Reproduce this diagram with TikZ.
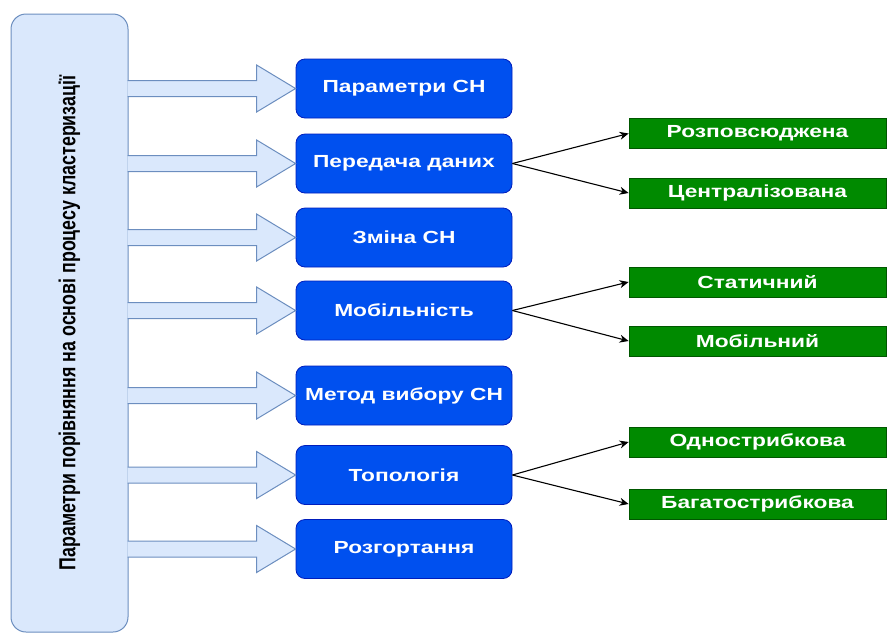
\documentclass[tikz,border=0pt]{standalone}
\usepackage{fontspec}
\setmainfont{Liberation Sans}
\usetikzlibrary{arrows.meta,calc}
\definecolor{bluefill}{HTML}{0050EF}
\definecolor{blueline}{HTML}{001DBC}
\definecolor{greenfill}{HTML}{008A00}
\definecolor{greenline}{HTML}{005700}
\definecolor{lightfill}{HTML}{DAE8FC}
\definecolor{lightline}{HTML}{6C8EBF}
\newcommand{\widetxt}[1]{\scalebox{1.3}[1]{#1}}
\begin{document}
\begin{tikzpicture}[x=1pt,y=-1pt,
  leftbox/.style={draw=lightline,fill=lightfill,line width=1pt,rounded corners=15pt,minimum width=117pt,minimum height=618pt,inner sep=0pt},
  bluebox/.style={draw=blueline,fill=bluefill,line width=0.8pt,rounded corners=9pt,minimum width=216pt,minimum height=59pt,inner sep=0pt,text=white,font=\fontsize{17.5}{20}\selectfont\bfseries},
  greenbox/.style={draw=greenline,fill=greenfill,line width=0.8pt,minimum width=257pt,minimum height=30pt,inner sep=0pt,text=white,font=\fontsize{17.5}{20}\selectfont\bfseries},
  barrow/.style={draw=lightline,fill=lightfill,line width=1pt,line join=miter},
  conn/.style={-{Stealth[length=9pt,width=8pt]},line width=1.1pt,black}]
\useasboundingbox (0,0) rectangle (887,633);
\node[leftbox] (L) at (69.5,323) {\rotatebox{90}{\scalebox{1}[1.3]{\fontsize{17.8}{20}\selectfont\bfseries Параметри порівняння на основі процесу кластеризації}}};
\node[bluebox] (b1) at (404,88.5) {\widetxt{Параметри СН}};
\node[bluebox] (b2) at (404,163.5) {\widetxt{Передача даних}};
\node[bluebox] (b3) at (404,237.5) {\widetxt{Зміна СН}};
\node[bluebox] (b4) at (404,310.5) {\widetxt{Мобільність}};
\node[bluebox] (b5) at (404,395.5) {\widetxt{Метод вибору СН}};
\node[bluebox] (b6) at (404,475) {\widetxt{Топологія}};
\node[bluebox] (b7) at (404,549) {\widetxt{Розгортання}};
\node[greenbox] (g1) at (757.5,133.5) {\widetxt{Розповсюджена}};
\node[greenbox] (g2) at (757.5,193) {\widetxt{Централізована}};
\node[greenbox] (g3) at (757.5,282) {\widetxt{Статичний}};
\node[greenbox] (g4) at (757.5,341) {\widetxt{Мобільний}};
\node[greenbox] (g5) at (757.5,442) {\widetxt{Однострибкова}};
\node[greenbox] (g6) at (757.5,504) {\widetxt{Багатострибкова}};
\foreach \b in {b1,b2,b3,b4,b5,b6,b7}{
  \draw[barrow] ($(L.east|-\b.west)+(-1,-8)$) -- ($(\b.west)+(-39,-8)$) -- ($(\b.west)+(-39,-23.5)$) -- (\b.west) -- ($(\b.west)+(-39,23.5)$) -- ($(\b.west)+(-39,8)$) -- ($(L.east|-\b.west)+(-1,8)$);
}
\draw[conn] (b2.east) -- (g1.west);
\draw[conn] (b2.east) -- (g2.west);
\draw[conn] (b4.east) -- (g3.west);
\draw[conn] (b4.east) -- (g4.west);
\draw[conn] (b6.east) -- (g5.west);
\draw[conn] (b6.east) -- (g6.west);
\end{tikzpicture}
\end{document}
